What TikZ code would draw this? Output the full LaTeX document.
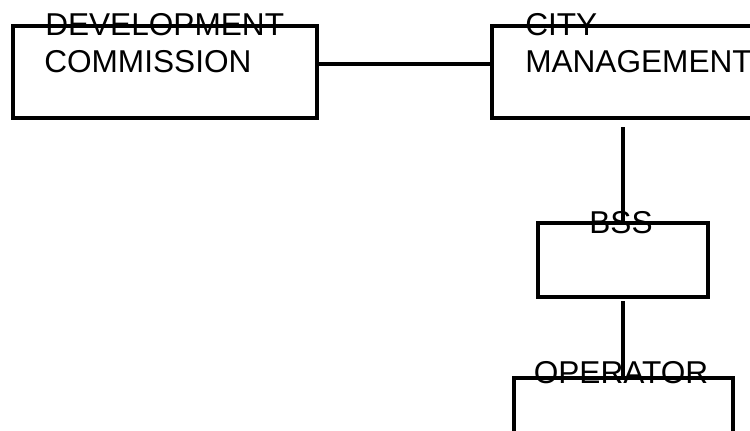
\documentclass[tikz,border=0pt]{standalone}
\usepackage{fontspec}
\setmainfont{Liberation Sans}
\begin{document}
\begin{tikzpicture}[x=0.75pt,y=-0.75pt,
  box/.style={draw=black, line width=3pt, inner sep=0pt, rectangle},
  conn/.style={draw=black, line width=3pt},
  lbl/.style={inner sep=0pt, font=\fontsize{23.7pt}{27.75pt}\selectfont, text=black}]
\useasboundingbox (0,0) rectangle (750,430);
% boxes
\node[box, minimum width=228pt, minimum height=69pt] (dev) at (165,72) {};
\node[box, minimum width=231pt, minimum height=69pt] (city) at (646,72) {};
\node[box, minimum width=127.5pt, minimum height=55.5pt] (bss) at (623,260) {};
\node[box, minimum width=164.25pt, minimum height=76.5pt] (op) at (623.5,429) {};
% labels
\node[lbl, anchor=base west] (devA) at (45,35) {DEVELOPMENT};
\node[lbl, anchor=base west] (devB) at (44,72.5) {COMMISSION};
\node[lbl, anchor=base west] (cityA) at (525,35) {CITY};
\node[lbl, anchor=base west] (cityB) at (525,72.5) {MANAGEMENT};
\node[lbl, anchor=base] (bssT) at (621,233.5) {BSS};
\node[lbl, anchor=base west] (opT) at (533.5,383.5) {OPERATOR};
% connectors
\draw[conn] (dev.east |- 0,64) -- (city.west |- 0,64);
\coordinate (citytail) at ([yshift=-5.25pt]city.south -| bss.north);
\draw[conn] (citytail) -- (bss.north);
\coordinate (bsstail) at ([yshift=-1.5pt]bss.south);
\draw[conn] (bsstail) -- (bsstail |- op.north);
\end{tikzpicture}
\end{document}
